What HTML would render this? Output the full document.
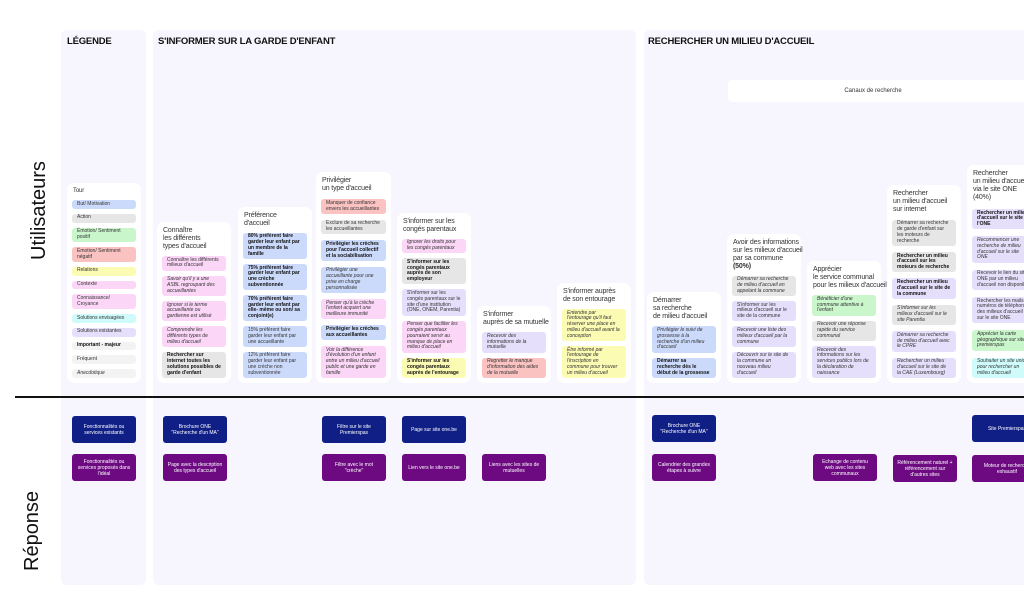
<!DOCTYPE html><html><head><meta charset="utf-8"><style>
*{box-sizing:border-box;margin:0;padding:0}
body{width:1024px;height:615px;background:#fff;position:relative;overflow:hidden;font-family:"Liberation Sans",sans-serif;color:#222}
.p{position:absolute;background:#f7f5fd;border-radius:6px;top:30px;height:555px}
.h{position:absolute;top:36px;font-size:9.5px;font-weight:bold;letter-spacing:-0.2px;color:#111}
.c{position:absolute;bottom:232px;background:#fff;border-radius:7px;padding:5px;display:flex;flex-direction:column;gap:5px}
.t{font-size:7px;line-height:8px;color:#333;padding-left:1px;white-space:nowrap;letter-spacing:-0.15px}
.s{font-size:5px;line-height:5.8px;padding:1.5px 5px;border-radius:3px;color:#333}
.b{background:#cbdafb}.g{background:#e6e6e6}.gr{background:#caf6cc}.r{background:#fbc2c2}.y{background:#fcfbb4}.pk{background:#fbd6f6}.cy{background:#cffbfb}.l{background:#e6dffb}.w{background:#f3f3f3}
.B{font-weight:bold;color:#111}.i{font-style:italic}
.R{position:absolute;width:64px;height:27px;border-radius:3px;color:#fff;font-size:5px;line-height:6px;display:flex;align-items:center;justify-content:center;text-align:center;padding:2px 4px}
.d{background:#0f1f85}.v{background:#6d0a81}
.vt{position:absolute;font-size:20px;transform:rotate(-90deg);transform-origin:left top;color:#111}
</style></head><body>
<div class="p" style="left:61px;width:85px"></div>
<div class="p" style="left:153px;width:483px"></div>
<div class="p" style="left:644px;width:400px"></div>
<div class="h" style="left:67px">LÉGENDE</div>
<div class="h" style="left:158px">S'INFORMER SUR LA GARDE D'ENFANT</div>
<div class="h" style="left:648px">RECHERCHER UN MILIEU D'ACCUEIL</div>
<div style="position:absolute;left:728px;top:80px;width:300px;height:22px;background:#fff;border-radius:4px;font-size:6px;text-align:center;line-height:22px;color:#333;padding-right:10px">Canaux de recherche</div>
<div class="vt" style="left:28px;top:260px">Utilisateurs</div>
<div class="vt" style="left:21px;top:571px">Réponse</div>
<div style="position:absolute;left:15px;top:396px;width:1009px;height:2px;background:#111"></div>

<div class="c" style="left:67px;width:74px;gap:5px">
<div class="t" style="font-size:6px;line-height:7px">Tour</div>
<div class="s b">But/ Motivation</div><div class="s g">Action</div><div class="s gr">Émotion/ Sentiment positif</div><div class="s r">Émotion/ Sentiment négatif</div><div class="s y">Relations</div><div class="s pk">Contexte</div><div class="s pk">Connaissance/ Croyance</div><div class="s cy">Solutions envisagées</div><div class="s l">Solutions existantes</div><div class="s w B">Important - majeur</div><div class="s w">Fréquent</div><div class="s w i">Anecdotique</div>
</div>

<div class="c" style="left:157px;width:74px">
<div class="t">Connaître<br>les différents<br>types d'accueil</div>
<div class="s pk">Connaître les différents milieux d'accueil</div>
<div class="s pk i">Savoir qu'il y a une ASBL regroupant des accueillantes</div>
<div class="s pk i">Ignorer si le terme accueillante ou gardienne est utilisé</div>
<div class="s pk i">Comprendre les différents types de milieu d'accueil</div>
<div class="s g B">Rechercher sur internet toutes les solutions possibles de garde d'enfant</div>
</div>

<div class="c" style="left:238px;width:74px">
<div class="t">Préférence<br>d'accueil</div>
<div class="s b B">80% préfèrent faire garder leur enfant par un membre de la famille</div>
<div class="s b B">75% préfèrent faire garder leur enfant par une crèche subventionnée</div>
<div class="s b B">70% préfèrent faire garder leur enfant par elle- même ou son/ sa conjoint(e)</div>
<div class="s b">15% préfèrent faire garder leur enfant par une accueillante</div>
<div class="s b">12% préfèrent faire garder leur enfant par une crèche non subventionnée</div>
</div>

<div class="c" style="left:316px;width:75px;gap:6px">
<div class="t">Privilégier<br>un type d'accueil</div>
<div class="s r">Manquer de confiance envers les accueillantes</div>
<div class="s g">Exclure de sa recherche les accueillantes</div>
<div class="s b B">Privilégier les crèches pour l'accueil collectif et la sociabilisation</div>
<div class="s b i">Privilégier une accueillante pour une prise en charge personnalisée</div>
<div class="s pk i">Penser qu'à la crèche l'enfant acquiert une meilleure immunité</div>
<div class="s b B">Privilégier les crèches aux accueillantes</div>
<div class="s pk i">Voir la différence d'évolution d'un enfant entre un milieu d'accueil public et une garde en famille</div>
</div>

<div class="c" style="left:397px;width:74px">
<div class="t">S'informer sur les<br>congés parentaux</div>
<div class="s pk i">Ignorer les droits pour les congés parentaux</div>
<div class="s g B">S'informer sur les congés parentaux auprès de son employeur</div>
<div class="s l">S'informer sur les congés parentaux sur le site d'une institution (ONE, ONEM, Parentia)</div>
<div class="s pk i">Penser que faciliter les congés parentaux pourraient servir au manque de place en milieu d'accueil</div>
<div class="s y B">S'informer sur les congés parentaux auprès de l'entourage</div>
</div>

<div class="c" style="left:477px;width:74px">
<div class="t">S'informer<br>auprès de sa mutuelle</div>
<div class="s l i">Recevoir des informations de la mutuelle</div>
<div class="s r i">Regretter le manque d'information des aides de la mutuelle</div>
</div>

<div class="c" style="left:557px;width:74px">
<div class="t">S'informer auprès<br>de son entourage</div>
<div class="s y i">Entendre par l'entourage qu'il faut réserver une place en milieu d'accueil avant la conception</div>
<div class="s y i">Être informé par l'entourage de l'inscription en commune pour trouver un milieu d'accueil</div>
</div>

<div class="c" style="left:647px;width:74px">
<div class="t">Démarrer<br>sa recherche<br>de milieu d'accueil</div>
<div class="s b i">Privilégier le suivi de grossesse à la recherche d'un milieu d'accueil</div>
<div class="s b B">Démarrer sa recherche dès le début de la grossesse</div>
</div>

<div class="c" style="left:727px;width:74px">
<div class="t">Avoir des informations<br>sur les milieux d'accueil<br>par sa commune<br><b>(50%)</b></div>
<div class="s g i">Démarrer sa recherche de milieu d'accueil en appelant la commune</div>
<div class="s l">S'informer sur les milieux d'accueil sur le site de la commune</div>
<div class="s l i">Recevoir une liste des milieux d'accueil par la commune</div>
<div class="s l i">Découvrir sur le site de la commune un nouveau milieu d'accueil</div>
</div>

<div class="c" style="left:807px;width:74px">
<div class="t">Apprécier<br>le service communal<br>pour les milieux d'accueil</div>
<div class="s gr i">Bénéficier d'une commune attentive à l'enfant</div>
<div class="s g i">Recevoir une réponse rapide du service communal</div>
<div class="s l i">Recevoir des informations sur les services publics lors de la déclaration de naissance</div>
</div>

<div class="c" style="left:887px;width:74px;gap:6px">
<div class="t">Rechercher<br>un milieu d'accueil<br>sur internet</div>
<div class="s g">Démarrer sa recherche de garde d'enfant sur les moteurs de recherche</div>
<div class="s g B">Rechercher un milieu d'accueil sur les moteurs de recherche</div>
<div class="s l B">Rechercher un milieu d'accueil sur le site de la commune</div>
<div class="s g i">S'informer sur les milieux d'accueil sur le site Parentia</div>
<div class="s l i">Démarrer sa recherche de milieu d'accueil avec le CPRE</div>
<div class="s l i">Rechercher un milieu d'accueil sur le site de la CAE (Luxembourg)</div>
</div>

<div class="c" style="left:967px;width:74px;gap:7px">
<div class="t">Rechercher<br>un milieu d'accueil<br>via le site ONE<br>(40%)</div>
<div class="s l B">Rechercher un milieu d'accueil sur le site de l'ONE</div>
<div class="s l i">Recommencer une recherche de milieu d'accueil sur le site ONE</div>
<div class="s l">Recevoir le lien du site ONE par un milieu d'accueil non disponible</div>
<div class="s l">Rechercher les mails et numéros de téléphone des milieux d'accueil sur le site ONE</div>
<div class="s gr i">Apprécier la carte géographique sur site premierspas</div>
<div class="s cy i">Souhaiter un site unique pour rechercher un milieu d'accueil</div>
</div>

<div class="R d" style="left:72px;top:416px">Fonctionnalités ou services existants</div>
<div class="R v" style="left:72px;top:454px">Fonctionnalités ou services proposés dans l'idéal</div>
<div class="R d" style="left:163px;top:416px">Brochure ONE "Recherche d'un MA"</div>
<div class="R v" style="left:163px;top:454px">Page avec la description des types d'accueil</div>
<div class="R d" style="left:322px;top:416px">Filtre sur le site Premierspas</div>
<div class="R v" style="left:322px;top:454px">Filtre avec le mot "crèche"</div>
<div class="R d" style="left:402px;top:416px">Page sur site one.be</div>
<div class="R v" style="left:402px;top:454px">Lien vers le site one.be</div>
<div class="R v" style="left:482px;top:454px">Liens avec les sites de mutuelles</div>
<div class="R d" style="left:652px;top:415px">Brochure ONE "Recherche d'un MA"</div>
<div class="R v" style="left:652px;top:454px">Calendrier des grandes étapes à suivre</div>
<div class="R v" style="left:813px;top:454px">Echange de contenu web avec les sites communaux</div>
<div class="R v" style="left:893px;top:455px">Référencement naturel + référencement sur d'autres sites</div>
<div class="R d" style="left:972px;top:415px;width:70px">Site Premierspas</div>
<div class="R v" style="left:972px;top:455px;width:70px">Moteur de recherche exhaustif</div>
</body></html>
